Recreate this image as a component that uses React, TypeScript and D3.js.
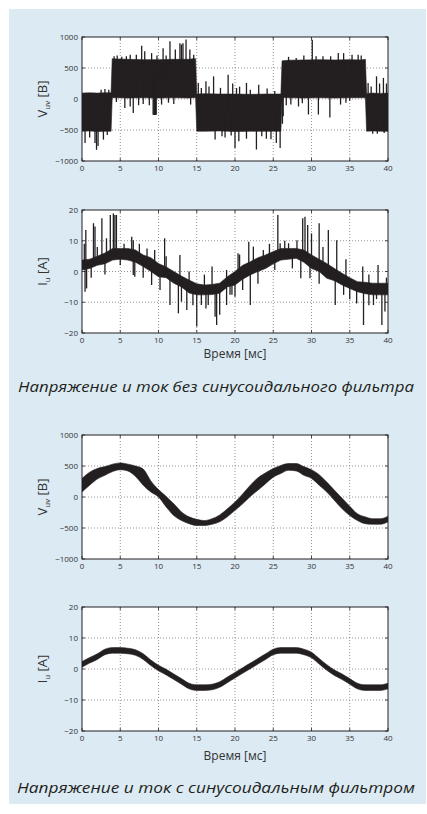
import React from "react";
import * as d3 from "d3";

// ---------- data ----------
const T_TICKS = [0, 5, 10, 15, 20, 25, 30, 35, 40];
const V_TICKS = [-1000, -500, 0, 500, 1000];
const I_TICKS = [-20, -10, 0, 10, 20];

// Plot 1: Vuv without filter (band envelope, breakpoints in ms)
const V1_T = [0, 1, 2, 3, 3.8, 3.95, 4.5, 6, 8, 10, 12, 14, 14.5, 14.85, 15.0, 16, 18, 20, 22, 24, 26.0, 26.15, 27, 29, 31, 33, 35, 36.5, 37.05, 37.2, 38, 39, 40];
const V1_LO = [-520, -515, -525, -520, -520, 20, 20, 15, 20, 15, 20, 15, 20, 20, -520, -520, -515, -525, -520, -520, -520, 25, 20, 15, 20, 15, 20, 20, 20, -520, -515, -520, -520];
const V1_HI = [95, 100, 95, 100, 100, 650, 645, 640, 635, 635, 640, 640, 650, 650, 80, 85, 80, 80, 75, 80, 80, 615, 625, 630, 635, 630, 635, 630, 640, 90, 95, 90, 95];
const V1_SPIKES: [number, number][] = [
  [4.2, 690], [4.6, 700], [5.2, 680], [5.8, 690], [6.3, 715], [7.1, 715], [7.8, 860], [8.2, 770], [9.1, 740], [9.8, 700],
  [10.6, 820], [11.0, 700], [11.5, 930], [12.2, 800], [12.8, 900], [13.0, 880], [13.2, 900], [13.6, 960], [14.1, 800], [14.6, 715],
  [27.0, 680], [28.0, 660], [29.0, 700], [30.1, 957], [30.6, 690], [31.5, 690], [32.5, 690], [33.5, 740], [34.2, 740], [35.3, 715], [36.1, 715], [36.5, 700],
  [4.5, -50], [5.6, -145], [6.3, -120], [6.7, -225], [7.4, -100], [8.0, -80], [8.8, -100], [9.3, -255], [9.4, -260], [9.5, -260], [9.6, -255], [9.7, -255],
  [10.4, -90], [11.3, -60], [12.0, -80], [14.2, -90],
  [26.2, -400], [26.3, -280], [26.7, -100], [27.3, -90], [28.3, -120], [28.8, -70], [29.6, -250], [30.9, -250], [32.4, -300], [33.8, -90], [34.5, -60], [35.0, -30],
  [0.4, -710], [1.0, -620], [1.7, -710], [1.9, -820], [2.1, -760], [2.8, -655], [3.3, -580],
  [17.4, -655], [18.3, -600], [18.7, -620], [19.5, -590], [20.0, -790], [20.5, -680], [21.5, -640], [22.8, -815], [23.5, -600], [24.1, -640], [24.7, -650], [25.4, -710], [25.9, -790],
  [38.0, -560], [38.6, -560], [39.5, -550],
  [2.5, 150], [3.0, 160], [3.5, 150], [15.2, 260], [15.6, 177], [16.2, 285], [16.6, 200], [17.2, 365], [18.1, 180], [19.1, 390], [19.7, 250],
  [20.2, 177], [20.6, 200], [21.5, 260], [22.0, 150], [23.1, 230], [24.2, 170], [25.2, 130],
  [37.4, 260], [37.8, 200], [38.5, 365], [38.9, 250], [39.4, 340], [39.8, 250],
];

// Plot 2: Iu without filter (band envelope each ms + spikes)
const MS = d3.range(0, 41);
const I1_LO = [0.5, 1, 2, 2.5, 3.7, 4, 3.7, 3, 1.6, 0, -1.7, -2, -3.8, -5, -7, -7.6, -7.6, -7.5, -7.1, -5, -4.4, -2.5, -1.1, 0, 1, 2.5, 3.7, 4, 4.3, 3, 1, 0, -2.2, -3, -4.4, -5.5, -6.6, -7.2, -7.6, -7.6, -7.6];
const I1_HI = [3.7, 4, 5, 6, 7.5, 7.5, 7.5, 7, 5.4, 4.5, 2.6, 1.5, 0, -1.5, -2.8, -4, -4.4, -4.2, -3.8, -1.7, 0, 2, 3.2, 4.5, 5.4, 6.5, 7.5, 7.5, 7.5, 7, 5.4, 4, 2.6, 1, -0.6, -2, -3.3, -3.5, -3.8, -3.8, -3.8];
const I1_SPIKES: [number, number][] = [
  [0.3, 9], [0.5, 13.5], [1.5, 15.7], [1.7, 14.6], [2.0, 8], [2.6, 17.3], [3.2, 10.8], [3.7, 18.4], [4.1, 18.9], [4.3, 18.4], [4.5, 18.4],
  [5.5, 9], [6.5, 11.3], [6.7, 10.2], [7.5, 9], [8.5, 7.5], [9.5, 7], [10.8, 10.8], [11.0, 5], [12.8, 5.4], [14.0, 0], [16.0, -1], [17.0, 1.6], [18.9, 0.5],
  [20.4, 5.9], [20.6, 5.5], [21.8, 9.7], [22.4, 8.1], [23.7, 7], [24.5, 9], [25.6, 18.4], [25.9, 9.2], [26.5, 10], [27.0, 9.2], [28.1, 10.2],
  [28.85, 17.3], [29.15, 17.8], [29.5, 15.1], [30.0, 12.4], [31.0, 15.7], [31.5, 8], [32.2, 13.5], [33.3, 10.2], [34.5, 4], [36.7, 1.6], [37.5, -1], [38.7, 2.1], [39.8, -2],
  [0.4, -6.6], [0.6, -5.5], [1.2, -2], [3.0, -1], [5.0, 2], [6.7, -1.1], [6.9, -1.7], [8.0, -2], [9.1, -4.4], [10.2, -6], [11.5, -10.9],
  [12.6, -13.6], [13.0, -9.8], [13.7, -12.5], [14.5, -11], [15.0, -17.9], [15.6, -10.9], [16.2, -12], [16.5, -10.9], [17.4, -14.7], [17.6, -17.4],
  [18.0, -14.1], [18.9, -10.9], [19.35, -7.6], [19.6, -7.6], [20.0, -8.2], [21.0, -6], [22.0, -10.9], [23.0, -4], [25.2, 0.5], [27.5, 1],
  [28.6, -2.2], [29.8, -2.2], [31.0, -4], [33.1, -10.9], [34.2, -7.6], [35.0, -9], [35.9, -10.4], [36.8, -17.4], [37.5, -11], [38.1, -10.9],
  [38.5, -9], [39.2, -17.4], [39.6, -13],
];

// Plot 3: Vuv with sine filter (band envelope each ms)
const V2_LO = [80, 190, 290, 350, 410, 440, 420, 330, 190, 80, 0, -160, -300, -380, -430, -460, -460, -440, -400, -320, -215, -110, 10, 110, 215, 320, 380, 430, 420, 350, 300, 190, 80, -55, -190, -300, -380, -430, -440, -440, -400];
const V2_HI = [300, 400, 460, 490, 530, 550, 530, 500, 450, 260, 120, 10, -110, -240, -320, -360, -380, -350, -290, -190, -80, 50, 190, 310, 390, 460, 510, 540, 540, 490, 440, 360, 240, 110, -20, -150, -270, -320, -350, -350, -310];

// Plot 4: Iu with sine filter (band envelope each ms)
const I2_LO = [0.6, 1.9, 3.1, 4.6, 5.1, 5.1, 4.9, 4.4, 3.1, 1.1, -0.6, -1.9, -3.4, -4.9, -6.4, -6.9, -6.9, -6.7, -5.9, -4.4, -2.9, -1.4, 0.1, 1.6, 3.1, 4.6, 5.1, 5.1, 5.1, 4.6, 3.6, 1.6, -0.4, -2.1, -3.4, -4.9, -6.4, -6.9, -6.9, -6.9, -6.4];
const I2_HI = [2.4, 3.7, 4.9, 6.4, 6.9, 6.9, 6.7, 6.2, 4.9, 2.9, 1.2, -0.1, -1.6, -3.1, -4.6, -5.1, -5.1, -4.9, -4.1, -2.6, -1.1, 0.4, 1.9, 3.4, 4.9, 6.4, 6.9, 6.9, 6.9, 6.4, 5.4, 3.4, 1.4, -0.3, -1.6, -3.1, -4.6, -5.1, -5.1, -5.1, -4.6];

// ---------- drawing ----------
const INK = "#231f20";
const FONT = "'Open Sans', 'Noto Sans', sans-serif";
const X0 = 82, X1 = 388;

const fmt = (v: number) => (v < 0 ? "\u2212" + Math.abs(v) : String(v));

type PlotProps = {
  id: string;
  top: number;
  bottom: number;
  domain: [number, number];
  yTicks: number[];
  sym: string;
  sub: string;
  unit: string;
  t: number[];
  lo: number[];
  hi: number[];
  spikes?: [number, number][];
  curve?: d3.CurveFactory;
  spikeW?: number;
};

function Plot(p: PlotProps) {
  const x = d3.scaleLinear().domain([0, 40]).range([X0, X1]);
  const y = d3.scaleLinear().domain(p.domain).range([p.bottom, p.top]);
  const idx = d3.range(p.t.length);
  const area = d3
    .area<number>()
    .x((i) => x(p.t[i]))
    .y0((i) => y(p.lo[i]))
    .y1((i) => y(p.hi[i]))
    .curve(p.curve || d3.curveLinear);
  const mid = d3.scaleLinear().domain(p.t).range(p.t.map((_, i) => (p.lo[i] + p.hi[i]) / 2));
  const midY = (p.top + p.bottom) / 2;
  return (
    <g>
      <defs>
        <clipPath id={p.id}>
          <rect x={X0} y={p.top} width={X1 - X0} height={p.bottom - p.top} />
        </clipPath>
      </defs>
      <rect x={X0} y={p.top} width={X1 - X0} height={p.bottom - p.top} fill="#fff" />
      {T_TICKS.slice(1, -1).map((v) => (
        <line key={"gx" + v} x1={x(v)} x2={x(v)} y1={p.top} y2={p.bottom} stroke="#666" strokeWidth={0.7} strokeDasharray="1,2" />
      ))}
      {p.yTicks.slice(1, -1).map((v) => (
        <line key={"gy" + v} x1={X0} x2={X1} y1={y(v)} y2={y(v)} stroke="#666" strokeWidth={0.7} strokeDasharray="1,2" />
      ))}
      <g clipPath={`url(#${p.id})`}>
        <path d={area(idx) || ""} fill={INK} stroke={INK} strokeWidth={0.6} />
        {(p.spikes || []).map(([t, v], k) => (
          <line key={k} x1={x(t)} x2={x(t)} y1={y(mid(t))} y2={y(v)} stroke={INK} strokeWidth={p.spikeW || 1.2} />
        ))}
      </g>
      {T_TICKS.map((v) => (
        <g key={"tx" + v}>
          <line x1={x(v)} x2={x(v)} y1={p.bottom} y2={p.bottom - 3} stroke={INK} strokeWidth={0.8} />
          <line x1={x(v)} x2={x(v)} y1={p.top} y2={p.top + 3} stroke={INK} strokeWidth={0.8} />
          <text x={x(v)} y={p.bottom + 10} fontSize={8} fill="#333" textAnchor="middle" fontFamily={FONT}>
            {fmt(v)}
          </text>
        </g>
      ))}
      {p.yTicks.map((v) => (
        <g key={"ty" + v}>
          <line x1={X0} x2={X0 + 3} y1={y(v)} y2={y(v)} stroke={INK} strokeWidth={0.8} />
          <line x1={X1} x2={X1 - 3} y1={y(v)} y2={y(v)} stroke={INK} strokeWidth={0.8} />
          <text x={X0 - 4} y={y(v) + 3} fontSize={8} fill="#333" textAnchor="end" fontFamily={FONT}>
            {fmt(v)}
          </text>
        </g>
      ))}
      <rect x={X0} y={p.top} width={X1 - X0} height={p.bottom - p.top} fill="none" stroke={INK} strokeWidth={1} />
      <text transform={`translate(47,${midY}) rotate(-90)`} textAnchor="middle" fontSize={13} fill="#333" fontFamily={FONT}>
        {p.sym}
        <tspan fontSize={8} dy={3}>{p.sub}</tspan>
        <tspan dy={-3}>{" " + p.unit}</tspan>
      </text>
    </g>
  );
}

export default function App() {
  return (
    <svg width={427} height={814} style={{ position: "absolute", left: 0, top: 0 }}>
      <rect x={0} y={0} width={427} height={814} fill="#fff" />
      <rect x={9} y={9} width={417} height={795} fill="#dbeaf3" />
      <Plot id="c1" top={37} bottom={161} domain={[-1000, 1000]} yTicks={V_TICKS} sym="V" sub="uv" unit="[B]"
        t={V1_T} lo={V1_LO} hi={V1_HI} spikes={V1_SPIKES} spikeW={1.3} />
      <Plot id="c2" top={210} bottom={333} domain={[-20, 20]} yTicks={I_TICKS} sym="I" sub="u" unit="[A]"
        t={MS} lo={I1_LO} hi={I1_HI} spikes={I1_SPIKES} spikeW={1.3} />
      <text x={235} y={358} fontSize={12} fill="#333" textAnchor="middle" fontFamily={FONT}>Время [мс]</text>
      <text x={216} y={392} fontSize={15} fill="#231f20" textAnchor="middle" fontStyle="italic" fontFamily={FONT}
        textLength={396} lengthAdjust="spacingAndGlyphs">Напряжение и ток без синусоидального фильтра</text>
      <Plot id="c3" top={435} bottom={559} domain={[-1000, 1000]} yTicks={V_TICKS} sym="V" sub="uv" unit="[B]"
        t={MS} lo={V2_LO} hi={V2_HI} curve={d3.curveMonotoneX} />
      <Plot id="c4" top={607} bottom={731} domain={[-20, 20]} yTicks={I_TICKS} sym="I" sub="u" unit="[A]"
        t={MS} lo={I2_LO} hi={I2_HI} curve={d3.curveMonotoneX} />
      <text x={235} y={760} fontSize={12} fill="#333" textAnchor="middle" fontFamily={FONT}>Время [мс]</text>
      <text x={216} y={793} fontSize={15} fill="#231f20" textAnchor="middle" fontStyle="italic" fontFamily={FONT}
        textLength={398} lengthAdjust="spacingAndGlyphs">Напряжение и ток с синусоидальным фильтром</text>
    </svg>
  );
}
